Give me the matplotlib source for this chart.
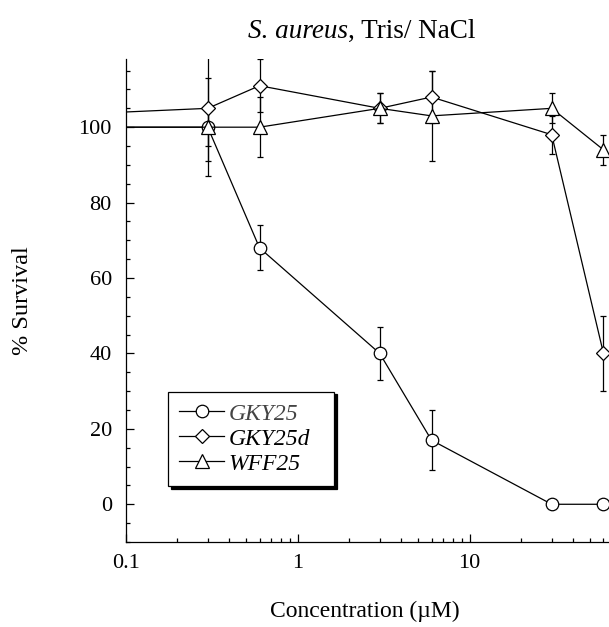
import matplotlib
matplotlib.use("Agg")
import matplotlib.pyplot as plt
from matplotlib.ticker import LogLocator, MultipleLocator, FixedLocator, NullFormatter

plt.rcParams['font.family'] = 'Liberation Serif'

# concentration in uM (first entry is the untreated control, off the left edge)
conc = [0.01, 0.3, 0.6, 3, 6, 30, 60]

gky25 = [100, 100, 68, 40, 17, 0, 0]
gky25_err = [0, 13, 6, 7, 8, 0, 0]

gky25d = [102, 105, 111, 105, 108, 98, 40]
gky25d_err = [0, 14, 7, 4, 7, 5, 10]

wff25 = [100, 100, 100, 105, 103, 105, 94]
wff25_err = [0, 5, 8, 4, 12, 4, 4]

fig = plt.figure(figsize=(6.09, 6.27), dpi=100)
ax = fig.add_axes([0.2064, 0.1356, 0.7936, 0.7698])

common = dict(color='black', lw=0.9, mfc='white', mec='black', mew=0.9,
              ecolor='black', elinewidth=0.9, capsize=2.5, capthick=0.9)
c1 = ax.errorbar(conc, gky25, yerr=gky25_err, marker='o', ms=9, **common)
c2 = ax.errorbar(conc, gky25d, yerr=gky25d_err, marker='D', ms=7, **common)
c3 = ax.errorbar(conc, wff25, yerr=wff25_err, marker='^', ms=9.5, **common)

ax.set_xscale('log')
ax.set_xlim(0.1, 64.6)
ax.set_ylim(-10, 118)

ax.yaxis.set_major_locator(FixedLocator([0, 20, 40, 60, 80, 100]))
ax.yaxis.set_minor_locator(MultipleLocator(5))
ax.xaxis.set_major_locator(FixedLocator([0.1, 1, 10]))
ax.xaxis.set_minor_locator(LogLocator(base=10, subs=range(2, 10)))
ax.xaxis.set_minor_formatter(NullFormatter())
ax.set_xticklabels(['0.1', '1', '10'])

ax.tick_params(which='both', direction='in', labelsize=16, width=0.9)
ax.tick_params(which='major', length=6)
ax.tick_params(which='minor', length=3)
ax.tick_params(axis='x', which='major', pad=9)
ax.tick_params(axis='y', which='major', pad=10)

for side in ['top', 'right']:
    ax.spines[side].set_visible(False)
for side in ['left', 'bottom']:
    ax.spines[side].set_linewidth(0.9)

ax.set_ylabel('% Survival', fontsize=17.5)
ax.yaxis.set_label_coords(-0.192, 0.5)
ax.set_xlabel('Concentration (\u00b5M)', fontsize=17, va='baseline')
ax.xaxis.set_label_coords(0.495, -0.1554)

# title: italic species name followed by the buffer in upright type
fig.canvas.draw()
renderer = fig.canvas.get_renderer()
t1 = fig.text(0, 0.94, 'S. aureus', style='italic', fontsize=19.5, va='baseline')
t2 = fig.text(0, 0.94, ', Tris/ NaCl', fontsize=19.5, va='baseline')
w1 = t1.get_window_extent(renderer).width / fig.bbox.width
w2 = t2.get_window_extent(renderer).width / fig.bbox.width
x0 = 361.5 / 609 - (w1 + w2) / 2
t1.set_x(x0)
t2.set_x(x0 + w1)

leg = ax.legend([c1.lines[0], c2.lines[0], c3.lines[0]], ['GKY25', 'GKY25d', 'WFF25'],
                loc='lower left', bbox_to_anchor=(0.0875, 0.116, 0.3435, 0.1947),
                mode='expand', borderaxespad=0,
                fancybox=False, shadow={'color': 'black', 'alpha': 1},
                edgecolor='black', framealpha=1,
                prop={'family': 'Liberation Serif', 'style': 'italic', 'size': 17},
                handlelength=1.9, handletextpad=0.2, labelspacing=0.15, borderpad=0.48)
leg.get_frame().set_linewidth(0.9)
leg.get_texts()[0].set_color('#444444')

fig.savefig('out.png', dpi=100)
